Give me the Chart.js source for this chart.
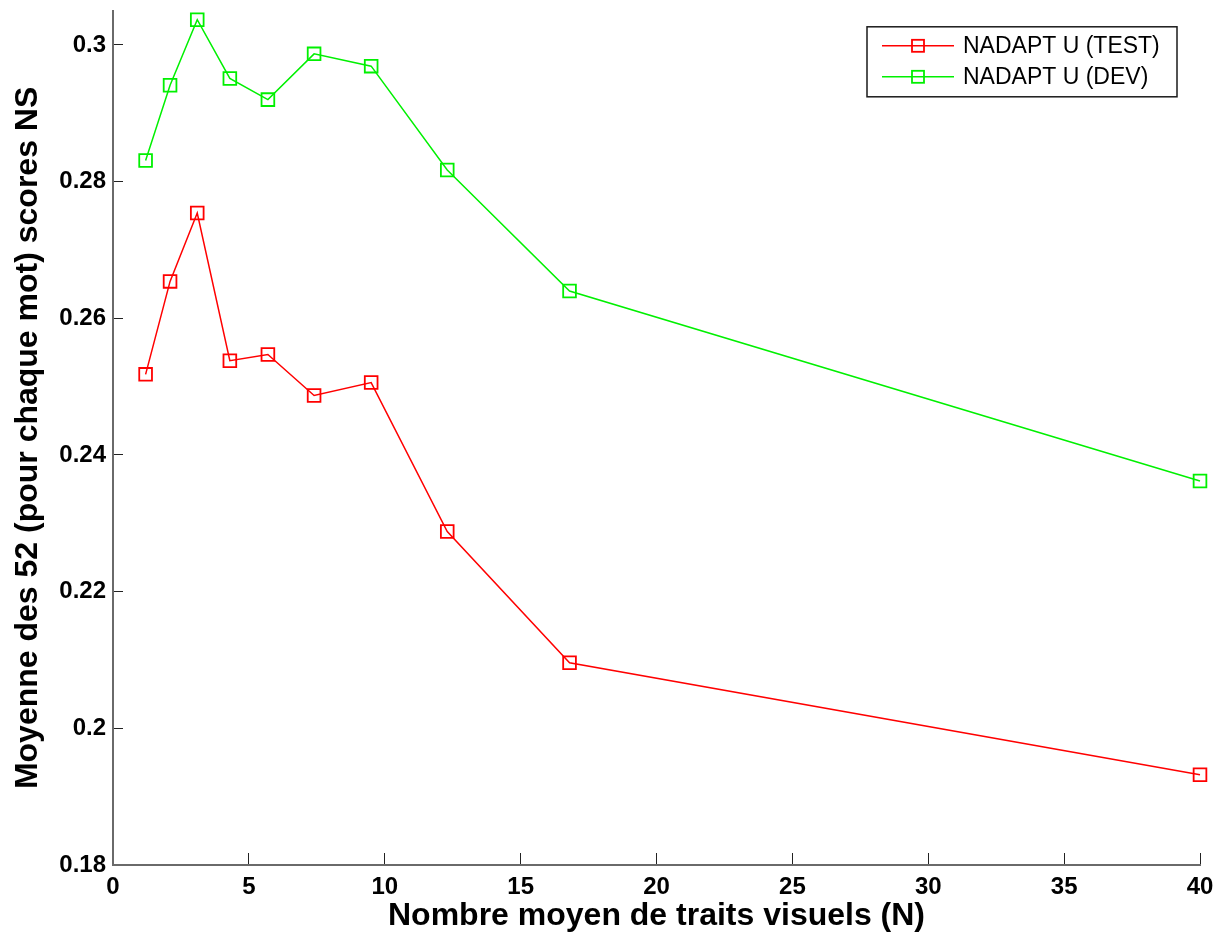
<!DOCTYPE html>
<html>
<head>
<meta charset="utf-8">
<title>Scores NS</title>
<script src="https://cdn.jsdelivr.net/npm/chart.js@4.4.1/dist/chart.umd.min.js"></script>
<style>
  html, body { margin: 0; padding: 0; background: #fff; }
  #wrap { width: 1215px; height: 937px; }
</style>
</head>
<body>
<div id="wrap"><canvas id="lineChart" width="1215" height="937"></canvas></div>
<script>
// nombre moyen de traits visuels
var nbTraits = [1.2, 2.1, 3.1, 4.3, 5.7, 7.4, 9.5, 12.3, 16.8, 40];
// moyenne des scores NS
var scoresTest = [0.2518, 0.2654, 0.2754, 0.2538, 0.2547, 0.2487, 0.2506, 0.2288, 0.2096, 0.1932];
var scoresDev = [0.2831, 0.2941, 0.3037, 0.2951, 0.2920, 0.2987, 0.2969, 0.2817, 0.2640, 0.2362];
var xTicks = [0, 5, 10, 15, 20, 25, 30, 35, 40];
var yTicks = [0.18, 0.2, 0.22, 0.24, 0.26, 0.28, 0.3];

var fontFamily = '"Liberation Sans", Arial, Helvetica, sans-serif';

function toPoints(xs, ys) {
    return xs.map(function (x, i) { return { x: x, y: ys[i] }; });
}

// pas de marge automatique autour des axes
function noPadding(scale) {
    scale.paddingTop = 0;
    scale.paddingBottom = 0;
    scale.paddingLeft = 0;
    scale.paddingRight = 0;
}

// legende dans un cadre, trait + carre comme sous matlab
var legendBox = {
    id: 'legendBox',
    afterDraw: function (chart) {
        var ctx = chart.ctx;
        var area = chart.chartArea;
        var w = 310, h = 70;
        var x0 = area.right - 23 - w;
        var y0 = area.top + 16;
        ctx.save();
        ctx.fillStyle = '#fff';
        ctx.fillRect(x0, y0, w, h);
        ctx.strokeStyle = '#1a1a1a';
        ctx.lineWidth = 1.5;
        ctx.strokeRect(x0, y0, w, h);
        ctx.font = '23px ' + fontFamily;
        ctx.textBaseline = 'middle';
        chart.data.datasets.forEach(function (ds, i) {
            var y = y0 + 19 + i * 31;
            ctx.strokeStyle = ds.borderColor;
            ctx.lineWidth = 1.5;
            ctx.beginPath();
            ctx.moveTo(x0 + 15, y);
            ctx.lineTo(x0 + 87, y);
            ctx.stroke();
            ctx.lineWidth = 1.8;
            ctx.strokeRect(x0 + 45, y - 6, 12, 12);
            ctx.fillStyle = '#000';
            ctx.fillText(ds.label, x0 + 96, y + 1);
        });
        ctx.restore();
    }
};

var ctxLine = document.getElementById('lineChart');
var dataLine = {
    datasets: [{
        label: 'NADAPT U (TEST)',
        data: toPoints(nbTraits, scoresTest),
        borderColor: '#ff0000',
        backgroundColor: 'rgba(0,0,0,0)',
        borderWidth: 1.5,
        pointStyle: 'rect',
        pointRadius: 9,
        pointHoverRadius: 9,
        pointBorderWidth: 1.8,
        pointBackgroundColor: 'rgba(0,0,0,0)',
        tension: 0,
        clip: false
    }, {
        label: 'NADAPT U (DEV)',
        data: toPoints(nbTraits, scoresDev),
        borderColor: '#00f000',
        backgroundColor: 'rgba(0,0,0,0)',
        borderWidth: 1.5,
        pointStyle: 'rect',
        pointRadius: 9,
        pointHoverRadius: 9,
        pointBorderWidth: 1.8,
        pointBackgroundColor: 'rgba(0,0,0,0)',
        tension: 0,
        clip: false
    }]
};

var myLineChart = new Chart(ctxLine, {
    type: 'line',
    data: dataLine,
    plugins: [legendBox],
    options: {
        responsive: false,
        animation: false,
        events: [],
        layout: {
            padding: { top: 8, right: 15, bottom: 0, left: 0 }
        },
        plugins: {
            legend: { display: false },
            tooltip: { enabled: false }
        },
        scales: {
            x: {
                type: 'linear',
                min: 0,
                max: 40,
                afterFit: function (scale) {
                    scale.height = 72;
                    noPadding(scale);
                },
                afterBuildTicks: function (scale) {
                    scale.ticks = xTicks.map(function (v) { return { value: v }; });
                },
                grid: {
                    drawOnChartArea: false,
                    drawTicks: true,
                    tickLength: -12,
                    color: '#222',
                    lineWidth: 1
                },
                border: { color: '#6a6a6a', width: 2 },
                ticks: {
                    padding: 20,
                    color: '#000',
                    maxRotation: 0,
                    font: { family: fontFamily, size: 24, weight: 'bold' }
                },
                title: {
                    display: true,
                    text: 'Nombre moyen de traits visuels (N)',
                    color: '#000',
                    padding: { top: 0, bottom: 2 },
                    font: { family: fontFamily, size: 32, weight: 'bold' }
                }
            },
            y: {
                type: 'linear',
                min: 0.18,
                max: 0.305,
                bounds: 'data',
                afterFit: function (scale) {
                    scale.width = 113;
                    noPadding(scale);
                },
                afterBuildTicks: function (scale) {
                    scale.ticks = yTicks.map(function (v) { return { value: v }; });
                },
                grid: {
                    drawOnChartArea: false,
                    drawTicks: true,
                    tickLength: -10,
                    color: '#222',
                    lineWidth: 1
                },
                border: { color: '#6a6a6a', width: 2 },
                ticks: {
                    padding: 17,
                    color: '#000',
                    font: { family: fontFamily, size: 24, weight: 'bold' },
                    callback: function (v) { return String(Math.round(v * 100) / 100); }
                },
                title: {
                    display: true,
                    text: 'Moyenne des 52 (pour chaque mot) scores NS',
                    color: '#000',
                    padding: { top: 9, bottom: 0 },
                    font: { family: fontFamily, size: 32, weight: 'bold' }
                }
            }
        }
    }
});
</script>
</body>
</html>
